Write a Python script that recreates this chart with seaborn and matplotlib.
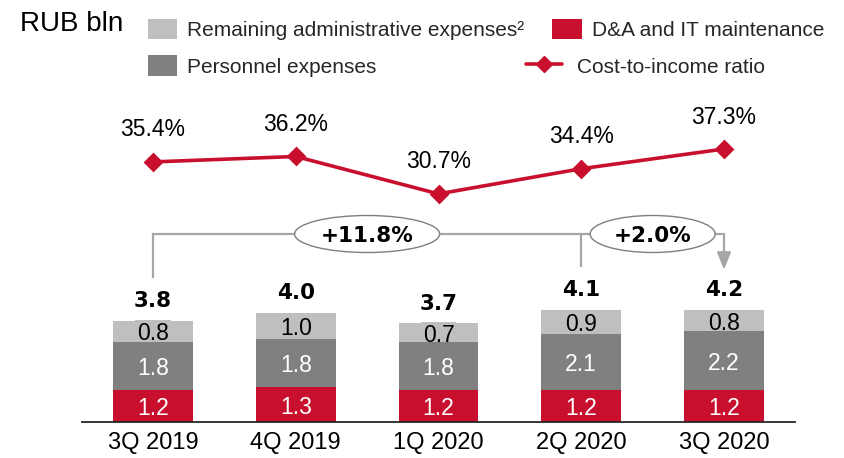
import numpy as np
import pandas as pd
import matplotlib
matplotlib.use("Agg")
import matplotlib.pyplot as plt
import seaborn as sns
from matplotlib.patches import Ellipse, Patch
from matplotlib.lines import Line2D

# Operating expenses by quarter, RUB bln
quarters = ["3Q 2019", "4Q 2019", "1Q 2020", "2Q 2020", "3Q 2020"]
da_it = [1.2, 1.3, 1.2, 1.2, 1.2]
personnel = [1.8, 1.8, 1.8, 2.1, 2.2]
remaining = [0.8, 1.0, 0.7, 0.9, 0.8]
totals = [3.8, 4.0, 3.7, 4.1, 4.2]
# Cost-to-income ratio, %
cost_to_income = [35.4, 36.2, 30.7, 34.4, 37.3]
# Growth call-outs: (from quarter, to quarter, label)
growth = [(0, 4, "+11.8%"), (3, 4, "+2.0%")]

RED = "#C8102E"
DARK = "#808080"
LIGHT = "#BFBFBF"
BRACKET = "#A6A6A6"

sns.set_theme(style="white")
plt.rcParams["font.family"] = ["Liberation Sans", "DejaVu Sans"]
BOLD = ["DejaVu Sans"]

W, H = 844, 458
fig = plt.figure(figsize=(W / 100, H / 100), dpi=100)
fig.patch.set_facecolor("white")


def fx(px):
    return px / W


def fy(py):
    return 1 - py / H


# axes geometry in pixels
x_first, step = 153, 142.75
base = 422
unit_px = 26.7
left = x_first - 0.5 * step
ax = fig.add_axes([fx(left), fy(base), 5 * step / W, base / H])

df = pd.DataFrame({"quarter": quarters, "da": da_it, "pers": personnel, "rem": remaining})
df["lvl1"] = df["da"]
df["lvl2"] = df["da"] + df["pers"]
df["lvl3"] = df["lvl2"] + df["rem"]

# stacked bars drawn as overlapping cumulative bars
for col, c, z in [("lvl3", LIGHT, 1), ("lvl2", DARK, 3), ("lvl1", RED, 3.1)]:
    n_before = len(ax.patches)
    sns.barplot(data=df, x="quarter", y=col, color=c, width=0.56, saturation=1,
                errorbar=None, edgecolor="none", linewidth=0, ax=ax)
    for p in ax.patches[n_before:]:
        p.set_zorder(z)

ax.set_xlim(-0.5, 4.5)
ax.set_ylim(0, base / unit_px)
ax.set_xlabel("")
ax.set_ylabel("")
ax.set_yticks([])
for s in ["top", "left", "right"]:
    ax.spines[s].set_visible(False)
ax.spines["bottom"].set_color("#262626")
ax.spines["bottom"].set_linewidth(1.3)
ax.spines["bottom"].set_zorder(4)
ax.tick_params(axis="x", length=0, pad=7, labelsize=17, colors="black")
ax.set_facecolor("none")

# segment labels
for i in range(len(quarters)):
    l1, l2, l3 = df.loc[i, ["lvl1", "lvl2", "lvl3"]]
    ax.text(i, l1 / 2, f"{da_it[i]:.1f}", color="white", ha="center",
            va="center_baseline", fontsize=16.5, zorder=5)
    ax.text(i, (l1 + l2) / 2, f"{personnel[i]:.1f}", color="white", ha="center",
            va="center_baseline", fontsize=16.5, zorder=5)
    ax.text(i, (l2 + l3) / 2, f"{remaining[i]:.1f}", color="black", ha="center",
            va="center_baseline", fontsize=16.5, zorder=2,
            bbox=dict(boxstyle="square,pad=0.08", fc=LIGHT, ec="none"))
    ax.annotate(f"{totals[i]:.1f}", (i, l3), xytext=(0, 14), textcoords="offset points",
                ha="center", va="center", fontsize=15.5, fontweight="bold",
                family=BOLD, color="black", zorder=5)

# growth brackets
tops = df["lvl3"].tolist()
yb = (base - 234) / unit_px
gap = 1.6
ax.plot([0, 0], [tops[0] + gap, yb], color=BRACKET, lw=1.6, zorder=2,
        solid_capstyle="butt")
ax.plot([3, 3], [tops[3] + gap, yb], color=BRACKET, lw=1.6, zorder=2,
        solid_capstyle="butt")
ax.plot([0, 4], [yb, yb], color=BRACKET, lw=1.6, zorder=2, solid_capstyle="projecting")
ax.annotate("", xy=(4, tops[4] + gap - 0.1), xytext=(4, yb),
            arrowprops=dict(arrowstyle="-|>,head_length=0.5,head_width=0.2",
                            color=BRACKET, lw=1.6, mutation_scale=21,
                            shrinkA=0, shrinkB=0), zorder=2)
for (a, b, lab), cx, w_px in zip(growth, [1.5, 3.5], [145, 125]):
    e = Ellipse((cx, yb), width=w_px / step, height=37 / unit_px,
                transform=ax.transData, fc="white", ec="#7F7F7F", lw=1.0, zorder=5)
    ax.add_patch(e)
    ax.text(cx, yb, lab, ha="center", va="center_baseline", fontsize=15.5,
            fontweight="bold", family=BOLD, zorder=6, color="black")

# cost-to-income line on its own scale
ax2 = ax.twinx()
sns.pointplot(x=quarters, y=cost_to_income, color=RED, markers="D", markersize=8,
              linewidth=2.6, errorbar=None, ax=ax2)
ax2.set_xlim(-0.5, 4.5)
pct_px = 6.8
lo = 37.3 - (base - 149) / pct_px
ax2.set_ylim(lo, lo + base / pct_px)
ax2.set_yticks([])
ax2.set_ylabel("")
for s in ax2.spines.values():
    s.set_visible(False)
for i, v in enumerate(cost_to_income):
    ax2.annotate(f"{v:.1f}%", (i, v), xytext=(0, 23), textcoords="offset points",
                 ha="center", va="center", fontsize=16.5, color="black")

# unit caption
fig.text(fx(20), fy(31), "RUB bln", fontsize=20, va="baseline", ha="left", color="black")


# legend entries
def legend_entry(handle, label, hx, hy, hlen_px):
    fs = 15
    fs_px = fs * 100 / 72
    fig.legend([handle], [label], loc="center left",
               bbox_to_anchor=(fx(hx), fy(hy)), bbox_transform=fig.transFigure,
               frameon=False, borderpad=0, borderaxespad=0, fontsize=fs,
               handlelength=hlen_px / fs_px, handleheight=23 / fs_px,
               handletextpad=(10 if hlen_px < 32 else 15) / fs_px)


legend_entry(Patch(fc=LIGHT, ec="none"), "Remaining administrative expenses\u00b2", 148, 29.5, 29)
legend_entry(Patch(fc=DARK, ec="none"), "Personnel expenses", 148, 66, 29)
legend_entry(Patch(fc=RED, ec="none"), "D&A and IT maintenance", 552, 29.5, 30)
legend_entry(Line2D([], [], color=RED, lw=2.6, marker="D", markersize=8),
             "Cost-to-income ratio", 526, 66, 36)

fig.savefig("out.png", dpi=100, facecolor="white")
